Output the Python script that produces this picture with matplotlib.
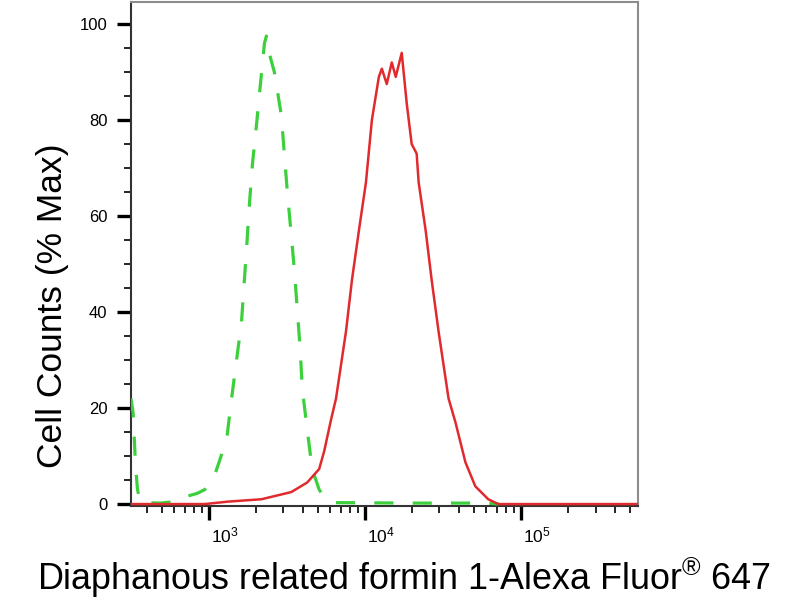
import numpy as np
import matplotlib
matplotlib.use('Agg')
import matplotlib.pyplot as plt
from matplotlib.ticker import FixedLocator, LogLocator, MultipleLocator, NullFormatter
from matplotlib.transforms import ScaledTranslation

plt.rcParams['font.family'] = ['Liberation Sans', 'DejaVu Sans']
plt.rcParams['mathtext.fontset'] = 'custom'
plt.rcParams['mathtext.rm'] = 'Liberation Sans'
plt.rcParams['mathtext.it'] = 'Liberation Sans'
plt.rcParams['mathtext.bf'] = 'Liberation Sans'

# Isotype control (green, dashed) - its tail past ~7.5e4 lies under the red line
ctrl_x = [318, 328, 340, 350, 365, 391, 487, 607, 703, 839, 943, 1092, 1303, 1401,
          1507, 1622, 1694, 1745, 1824, 1907, 2022, 2143, 2274, 2341, 2483, 2632,
          2916, 3048, 3186, 3378, 3529, 3690, 3855, 3972, 4272, 4594, 5094, 5644,
          6353, 20000, 60000, 72000]
ctrl_y = [22, 19, 8, 3, 0.5, 0.3, 0.2, 0.5, 1.5, 2.2, 3, 6, 13.5, 22,
          30, 38, 47, 53, 62.7, 71, 79, 87.5, 96, 97.5, 93, 90,
          81, 73, 65, 56, 49, 40.5, 32, 24, 15.5, 7.3, 3, 1,
          0.3, 0.2, 0.2, 0]

# Diaphanous related formin 1 stained sample (red)
dr_x = [318, 943, 1321, 2175, 3378, 4272, 5094, 5483, 6070, 6531, 7566, 8261,
        9153, 10150, 11080, 12280, 12830, 13800, 14850, 15750, 17200, 18530,
        19920, 21440, 22080, 24480, 26740, 29600, 34300, 38000, 44000, 50900,
        61600, 71400, 560000]
dr_y = [0, 0, 0.5, 1, 2.5, 4.5, 7.3, 11, 17.6, 22, 36, 46.7,
        57, 67, 80, 89, 90.7, 87.5, 92, 89, 94, 83.4,
        75, 73, 67, 57, 46.7, 36, 22, 17, 8.7, 3.7,
        1, 0, 0]

y_ticks = [0, 20, 40, 60, 80, 100]
x_ticks = [1e3, 1e4, 1e5]
x_labels = ['$10^3$', '$10^4$', '$10^5$']

fig = plt.figure(figsize=(8, 6), dpi=100)
ax = fig.add_axes([0.16375, 0.1567, 0.63375, 0.84])

ax.plot(ctrl_x, ctrl_y, color='#3cd03c', linewidth=2.3, dashes=(6, 6), zorder=3)
ax.plot(dr_x, dr_y, color='#e02a2e', linewidth=1.8, zorder=4)

ax.set_xscale('log')
ax.set_xlim(318, 5.6e5)
ax.set_ylim(-0.4, 104.6)

ax.xaxis.set_major_locator(FixedLocator(x_ticks))
ax.set_xticklabels(x_labels)
ax.xaxis.set_minor_locator(LogLocator(base=10, subs=np.arange(2, 10)))
ax.xaxis.set_minor_formatter(NullFormatter())
ax.set_yticks(y_ticks)
ax.yaxis.set_minor_locator(MultipleLocator(5))

ax.tick_params(axis='both', which='major', length=10, width=2.4, color='black',
               direction='out')
ax.tick_params(axis='y', which='major', labelsize=12, pad=7)
ax.tick_params(axis='x', which='major', labelsize=12.5, pad=4)
ax.tick_params(axis='both', which='minor', length=5, width=1.2, color='black',
               direction='out')

off = ScaledTranslation(2 / 100, 0, fig.dpi_scale_trans)
for lab in ax.get_xticklabels():
    lab.set_horizontalalignment('left')
    lab.set_transform(lab.get_transform() + off)

for side in ['left', 'bottom']:
    ax.spines[side].set_color('#333333')
    ax.spines[side].set_linewidth(1.5)
for side in ['top', 'right']:
    ax.spines[side].set_color('#8c8c8c')
    ax.spines[side].set_linewidth(1.5)

fig.text(0.066, 0.49, 'Cell Counts (% Max)', rotation=90, fontsize=25.5,
         ha='center', va='center')
fig.text(0.505, 0.037, 'Diaphanous related formin 1-Alexa Fluor$^{®}$ 647',
         fontsize=25.8, ha='center', va='center')

plt.savefig('out.png', dpi=100)
